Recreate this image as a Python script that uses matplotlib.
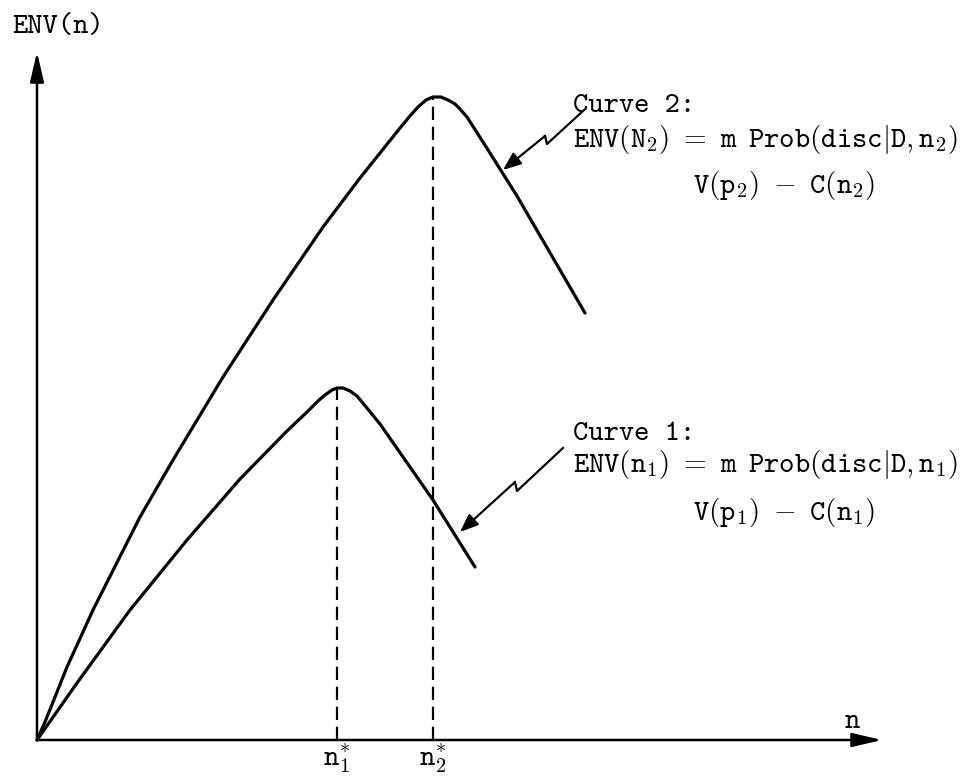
import os
import numpy as np
import matplotlib
matplotlib.use("Agg")
from matplotlib import pyplot as plt
from matplotlib.font_manager import FontProperties

plt.rcParams['mathtext.fontset'] = 'cm'
tt = FontProperties(fname=os.path.join(matplotlib.get_data_path(), 'fonts', 'ttf', 'cmtt10.ttf'))

# curve 2 (upper) and curve 1 (lower)
curve2_n   = [0, 8, 30, 56, 103, 136, 186, 236, 286, 323, 363, 373, 381, 389, 396, 404, 411, 418, 423, 430, 446, 480, 548]
curve2_env = [0, 18, 73, 130, 223, 280, 363, 440, 513, 562, 612, 624, 633, 640, 643, 643, 640, 636, 631, 623, 598, 544, 427]

curve1_n   = [0, 40, 93, 150, 203, 250, 270, 281, 288, 295, 300, 306, 313, 320, 325, 343, 396, 438]
curve1_env = [0, 57, 130, 200, 261, 309, 328, 339, 345, 350, 352, 352, 349, 344, 338, 316, 240, 173]

n_star   = [300, 396]
n_peak   = [352, 643]
n_labels = [r'$\mathtt{n}_{\mathtt{1}}^{\ast}$', r'$\mathtt{n}_{\mathtt{2}}^{\ast}$']

# zig-zag leaders: tip, kink top, kink bottom, end
lead1_n   = [423, 478, 480, 526]
lead1_env = [208, 258, 249, 292]
lead2_n   = [466, 508, 510, 546]
lead2_env = [570, 604, 596, 629]

x_end = 845
y_end = 688

fig = plt.figure(figsize=(9.74, 7.82), dpi=100)
ax = fig.add_axes([0, 0, 1, 1])
ax.set_xlim(-37, 937)
ax.set_ylim(-42, 740)
ax.axis('off')

# axes with arrow heads
arrow = dict(arrowstyle='-|>,head_length=1.2,head_width=0.28', color='black', lw=1.8, mutation_scale=15,
             shrinkA=0, shrinkB=0)
ax.annotate('', xy=(x_end, 0), xytext=(0, 0), arrowprops=arrow)
ax.annotate('', xy=(0, y_end), xytext=(0, 0), arrowprops=arrow)

ax.plot(curve2_n, curve2_env, color='black', lw=2.3, solid_capstyle='round', solid_joinstyle='round')
ax.plot(curve1_n, curve1_env, color='black', lw=2.3, solid_capstyle='round', solid_joinstyle='round')

fs = 21
for i in range(len(n_star)):
    ax.plot([n_star[i], n_star[i]], [0, n_peak[i]], color='black', lw=1.6, ls=(0, (6, 3)))
    ax.text(n_star[i], -25, n_labels[i], ha='center', va='baseline', fontsize=fs)

# leaders
tip = dict(arrowstyle='-|>,head_length=0.55,head_width=0.22', color='black', lw=1.6, mutation_scale=20,
           shrinkA=0, shrinkB=0)
for ln, le in [(lead1_n, lead1_env), (lead2_n, lead2_env)]:
    ax.plot(ln[1:], le[1:], color='black', lw=1.6)
    ax.annotate('', xy=(ln[0], le[0]), xytext=(ln[1], le[1]), arrowprops=tip)

ax.text(-25, 707, 'ENV(n)', fontproperties=tt, fontsize=fs, va='baseline')
ax.text(815, 12, 'n', fontproperties=tt, fontsize=fs, va='baseline', ha='center')

ax.text(536, 628, 'Curve 2:', fontproperties=tt, fontsize=fs, va='baseline')
ax.text(536, 593, r'$\mathtt{ENV(N_2)\ =\ m\enspace Prob(disc|D,n_2)}$', fontsize=fs, va='baseline')
ax.text(656, 547, r'$\mathtt{V(p_2)\ -\ C(n_2)}$', fontsize=fs, va='baseline')

ax.text(536, 300, 'Curve 1:', fontproperties=tt, fontsize=fs, va='baseline')
ax.text(536, 268, r'$\mathtt{ENV(n_1)\ =\ m\enspace Prob(disc|D,n_1)}$', fontsize=fs, va='baseline')
ax.text(656, 220, r'$\mathtt{V(p_1)\ -\ C(n_1)}$', fontsize=fs, va='baseline')

plt.savefig("out.png", dpi=100)
